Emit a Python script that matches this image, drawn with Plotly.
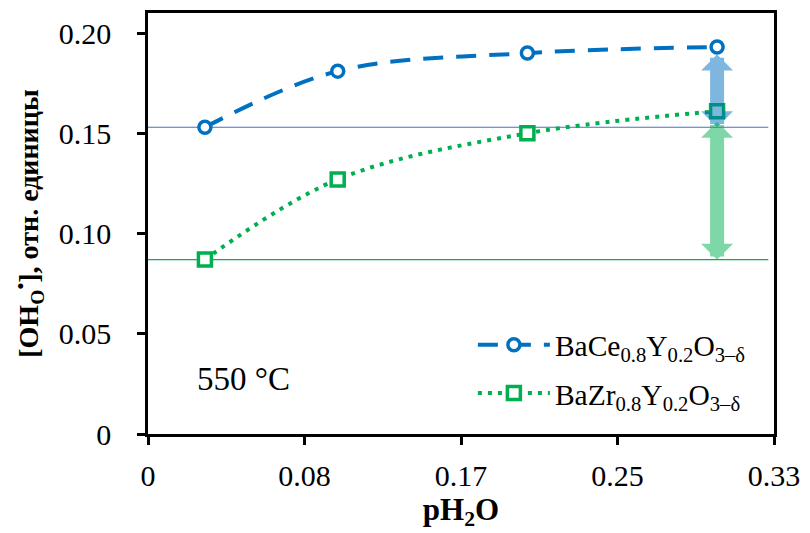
import plotly.graph_objects as go

# Water partial pressure and proton concentration at 550 °C
ph2o = [0.03, 0.10, 0.20, 0.30]
oh_ce = [0.153, 0.181, 0.190, 0.193]   # BaCe0.8Y0.2O3-δ
oh_zr = [0.087, 0.127, 0.150, 0.161]   # BaZr0.8Y0.2O3-δ

x_ticks = [0, 0.0825, 0.165, 0.2475, 0.33]
x_tick_labels = ["0", "0.08", "0.17", "0.25", "0.33"]
y_ticks = [0, 0.05, 0.10, 0.15, 0.20]
y_tick_labels = ["0", "0.05", "0.10", "0.15", "0.20"]

name_ce = "BaCe<sub>0.8</sub>Y<sub>0.2</sub>O<sub>3–δ</sub>"
name_zr = "BaZr<sub>0.8</sub>Y<sub>0.2</sub>O<sub>3–δ</sub>"

BLUE = "#0070C0"
GREEN = "#00B050"
SERIF = "Liberation Serif, Times New Roman, serif"
ref_line_end = 0.327

fig = go.Figure()

# Reference levels at the lowest humidity
fig.add_trace(go.Scatter(x=[0, ref_line_end], y=[oh_ce[0], oh_ce[0]], mode="lines",
                         line=dict(color="#4472C4", width=1.2), showlegend=False,
                         hoverinfo="skip"))
fig.add_trace(go.Scatter(x=[0, ref_line_end], y=[oh_zr[0], oh_zr[0]], mode="lines",
                         line=dict(color=GREEN, width=1.2), showlegend=False,
                         hoverinfo="skip"))

fig.add_trace(go.Scatter(
    x=ph2o, y=oh_ce, name=name_ce, mode="lines+markers", legendgroup="ce",
    line=dict(color=BLUE, width=4, dash="20px,13px", shape="spline", smoothing=1.0),
    marker=dict(symbol="circle", size=12, color="white", line=dict(color=BLUE, width=3.5)),
))
fig.add_trace(go.Scatter(
    x=ph2o, y=oh_zr, name=name_zr, mode="lines+markers", legendgroup="zr",
    line=dict(color=GREEN, width=4, dash="4px,6px", shape="spline", smoothing=1.0),
    marker=dict(symbol="square", size=13, color="white", line=dict(color=GREEN, width=3.5)),
))

# Double-headed arrows showing the increase relative to the reference levels
for vals, col, top_gap in [(oh_ce, BLUE, 6), (oh_zr, GREEN, 9)]:
    fig.add_annotation(
        x=ph2o[-1], y=vals[0], ax=ph2o[-1], ay=vals[-1],
        xref="x", yref="y", axref="x", ayref="y",
        text="", showarrow=True, arrowside="end+start",
        arrowhead=1, startarrowhead=1, arrowsize=0.38, startarrowsize=0.38,
        arrowwidth=14, arrowcolor=col, opacity=0.5,
        standoff=0, startstandoff=top_gap,
    )

fig.add_annotation(x=0.0505, y=0.0275, xref="x", yref="y", text="550 °C",
                   showarrow=False, font=dict(family=SERIF, size=33, color="black"))

axis_common = dict(
    showline=True, linecolor="black", linewidth=2.5, mirror=True,
    ticks="outside", ticklen=8, tickwidth=2.5, tickcolor="black",
    showgrid=False, zeroline=False,
    tickfont=dict(family=SERIF, size=30, color="black"),
)

fig.update_xaxes(range=[0, 0.33], tickmode="array", tickvals=x_ticks,
                 ticktext=x_tick_labels, ticklabelstandoff=5,
                 title=dict(text="<b>pH<sub>2</sub>O</b>", standoff=4,
                            font=dict(family=SERIF, size=31, color="black")),
                 **axis_common)
fig.update_yaxes(range=[0, 0.21], tickmode="array", tickvals=y_ticks,
                 ticktext=y_tick_labels, ticklabelstandoff=20,
                 title=dict(text="<b>[OH<sub>O</sub><sup>•</sup>], отн. единицы</b>", standoff=12,
                            font=dict(family=SERIF, size=28, color="black")),
                 **axis_common)

fig.update_layout(
    width=810, height=533,
    margin=dict(l=148, r=31, t=10, b=99),
    plot_bgcolor="white", paper_bgcolor="white",
    legend=dict(x=0.519, y=0.273, xanchor="left", yanchor="top",
                bgcolor="rgba(0,0,0,0)", itemwidth=72, tracegroupgap=7,
                font=dict(family=SERIF, size=29.5, color="black")),
)

fig.write_html("out.html")
